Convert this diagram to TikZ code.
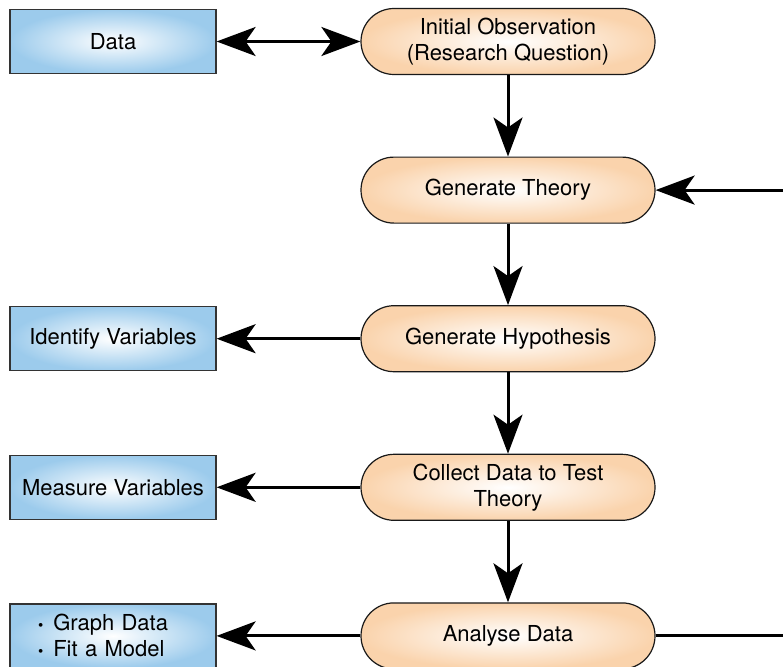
\documentclass[tikz,border=0pt]{standalone}
\usepackage{fontspec}
\setmainfont{TeX Gyre Heros}
\usetikzlibrary{arrows.meta}
\definecolor{peach}{RGB}{250,211,172}
\definecolor{skyblue}{RGB}{156,203,236}
\tikzset{
stage/.style = {draw=black!90, line width=1.2pt, rounded corners=33pt, shade, shading=radial,
  inner color=white, outer color=peach, minimum width=294pt, minimum height=66pt, align=center},
block/.style = {draw=black!80, line width=1.2pt, rectangle, shade, shading=radial,
  inner color=white, outer color=skyblue, minimum width=206pt, minimum height=64pt, align=center},
tmp/.style  = {coordinate},
label/.style = {font=\fontsize{22}{26}\selectfont}
}
\newcommand{\dotitem}{{\fontsize{15}{15}\selectfont\textbullet}\hspace{10pt}}

\begin{document}
\begin{tikzpicture}[auto, node distance=148.6pt, line width=3pt,
    >={Stealth[length=39pt,width=29pt,inset=10pt]}, every node/.style={label}]
    \useasboundingbox (0,0) rectangle (783pt,-666pt);
    % the stages down the middle
    \node [stage] (obs) at (508pt,-41.5pt) {Initial Observation\\(Research Question)};
    \node [stage, below of=obs] (theory) {Generate Theory};
    \node [stage, below of=theory] (hypo) {Generate Hypothesis};
    \node [stage, below of=hypo] (collect) {Collect Data to Test\\Theory};
    \node [stage, below of=collect] (analyse) {Analyse Data};

    % boxes on the left
    \node [block, left of=obs, node distance=395pt] (data) {Data};
    \node [block, left of=hypo, node distance=395pt] (ident) {Identify Variables};
    \node [block, left of=collect, node distance=395pt] (measure) {Measure Variables};
    \node [block, left of=analyse, node distance=395pt, text width=150pt, align=left] (graph)
        {\dotitem Graph Data\\\dotitem Fit a Model};

    % far side of the loop lies off the page
    \node [tmp, right of=analyse, node distance=320pt] (tmp1) {};

    \draw [<->] (data) -- (obs);
    \draw [->] (obs) -- (theory);
    \draw [->] (theory) -- (hypo);
    \draw [->] (hypo) -- (collect);
    \draw [->] (collect) -- (analyse);
    \draw [->] (hypo) -- (ident);
    \draw [->] (collect) -- (measure);
    \draw [->] (analyse) -- (graph);
    \draw [->] (analyse) -- (tmp1) |- (theory);
\end{tikzpicture}
\end{document}
